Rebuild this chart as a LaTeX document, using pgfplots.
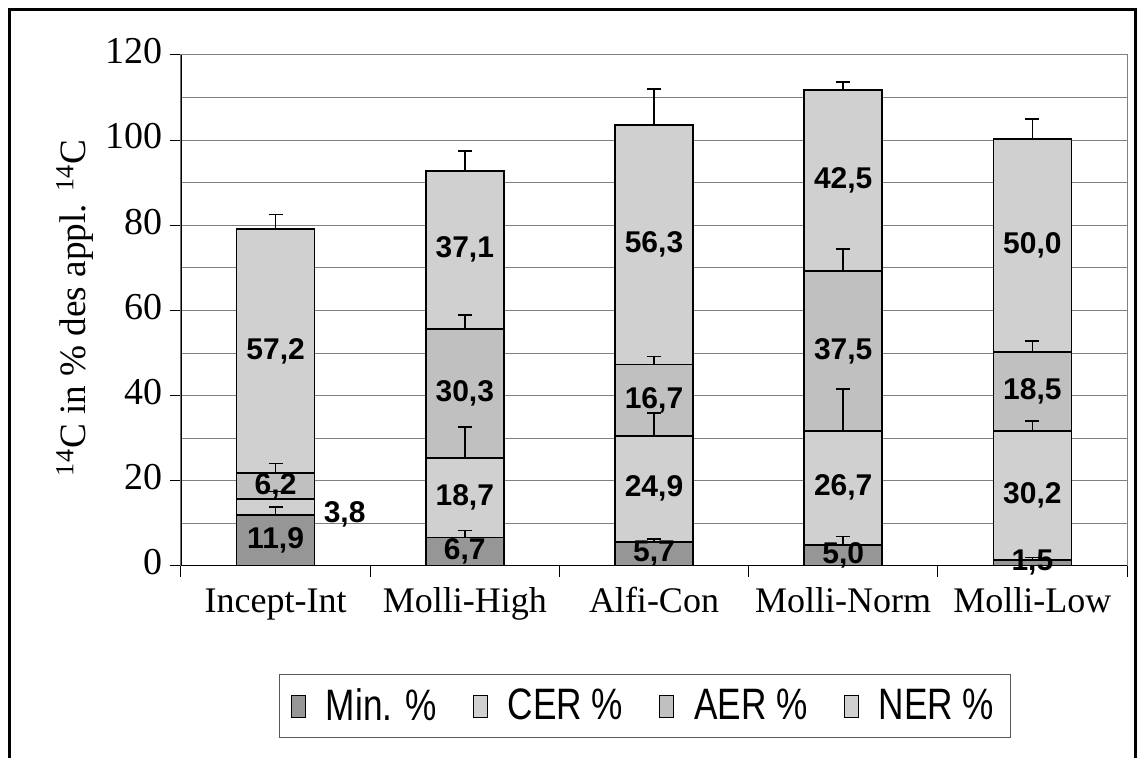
\documentclass[border=0pt]{standalone}
\usepackage{fontspec}
\setmainfont{Liberation Serif}
\newfontfamily\lblfont{Liberation Sans}
\newfontfamily\legfont[FakeStretch=0.8]{Liberation Sans}
\usepackage{pgfplots}
\usepackage{pgfplotstable}
\pgfplotsset{compat=1.18}

\definecolor{cMin}{RGB}{150,150,150}
\definecolor{cCER}{RGB}{208,208,208}
\definecolor{cAER}{RGB}{192,192,192}
\definecolor{cNER}{RGB}{208,208,208}

% segment values per treatment (x = 0..4)
\pgfplotstableread{
x  minp  cer   aer   ner
0  11.9  3.8   6.2   57.2
1  6.7   18.7  30.3  37.1
2  5.7   24.9  16.7  56.3
3  5.0   26.7  37.5  42.5
4  1.5   30.2  18.5  50.0
}\segs

% cumulative segment tops with upper standard deviations
\pgfplotstableread{
x  top    sd
0  11.9   2.0
0  15.7   1.8
0  21.9   2.2
0  79.1   3.4
1  6.7    1.6
1  25.4   7.2
1  55.7   3.3
1  92.8   4.6
2  5.7    0.7
2  30.6   5.3
2  47.3   1.9
2  103.6  8.4
3  5.0    1.9
3  31.7   9.8
3  69.2   5.2
3  111.7  2.0
4  1.5    0.5
4  31.7   2.4
4  50.2   2.7
4  100.2  4.7
}\errs

% value labels, placed at segment centres
\pgfplotstableread{
x     y      lab
0     5.95   11,9
0.365 12.1   3,8
0     18.8   6,2
0     50.5   57,2
1     3.35   6,7
1     16.05  18,7
1     40.55  30,3
1     74.25  37,1
2     2.85   5,7
2     18.15  24,9
2     38.95  16,7
2     75.45  56,3
3     2.5    5,0
3     18.35  26,7
3     50.45  37,5
3     90.45  42,5
4     0.75   1,5
4     16.6   30,2
4     40.95  18,5
4     75.2   50,0
}\labs

\pgfplotsset{
  plotarea/.style={
    at={(0,0)}, anchor=south west,
    scale only axis, width=473pt, height=255.5pt,
    xmin=-0.5, xmax=4.5, ymin=0, ymax=120,
  },
}

\begin{document}
\begin{tikzpicture}
\useasboundingbox (-90.5pt,-96pt) rectangle (480.5pt,283pt);

\begin{axis}[
  plotarea,
  ybar stacked,
  bar width=39pt,
  xtick={0,...,4},
  xticklabels={Incept-Int,Molli-High,Alfi-Con,Molli-Norm,Molli-Low},
  minor xtick={-0.5,0.5,...,4.5},
  ytick={0,20,...,120},
  minor ytick={10,30,...,110},
  xtick pos=bottom, ytick pos=left,
  tick align=outside,
  major tick length=5.5pt, minor tick length=5.5pt,
  major x tick style={draw=none},
  minor y tick style={draw=none},
  minor x tick style={black, line width=0.5pt},
  major y tick style={black, line width=0.5pt},
  ymajorgrids, yminorgrids,
  major grid style={gray, line width=0.5pt},
  minor grid style={gray, line width=0.5pt},
  axis line style={gray, line width=0.5pt},
  /pgf/number format/assume math mode=true,
  tick label style={font=\fontsize{19}{22}\selectfont},
  typeset ticklabels with strut,
  xticklabel style={font=\fontsize{18}{21}\selectfont, yshift=0.5pt},
  ylabel={\textsuperscript{14}C in \% des appl. \textsuperscript{14}C},
  every axis y label/.style={at={([xshift=-53pt]axis description cs:0,0.505)}, rotate=90, anchor=center, font=\fontsize{18.6}{22}\selectfont},
  legend columns=4,
  legend style={at={(0.49,-0.274)}, anchor=center, draw=gray!70!black, line width=0.5pt,
    font=\legfont\fontsize{22}{24}\selectfont, inner xsep=6pt, inner ysep=5pt,
    /tikz/every odd column/.append style={column sep=8pt},
    /tikz/every even column/.append style={column sep=16pt}},
  legend image code/.code={\draw[#1, draw=black, line width=0.5pt] (0pt,-5.5pt) rectangle (7pt,5.5pt);},
]
\addplot[fill=cMin, draw=black, line width=0.9pt] table[x=x, y=minp] {\segs};
\addplot[fill=cCER, draw=black, line width=0.9pt] table[x=x, y=cer] {\segs};
\addplot[fill=cAER, draw=black, line width=0.9pt] table[x=x, y=aer] {\segs};
\addplot[fill=cNER, draw=black, line width=0.9pt] table[x=x, y=ner] {\segs};
\legend{Min. \%, CER \%, AER \%, NER \%}
\draw[black, line width=0.6pt] (rel axis cs:0,1) -- (rel axis cs:0,0) -- (rel axis cs:1,0);
\end{axis}

\begin{axis}[plotarea, hide axis, clip=false]
\addplot[only marks, mark=none, nodes near coords, point meta=explicit symbolic,
  every node near coord/.append style={anchor=center, inner sep=0pt, text=black,
    font=\lblfont\bfseries\fontsize{15}{15}\selectfont}]
  table[x=x, y=y, meta=lab] {\labs};
\addplot[draw=none, mark=none,
  error bars/.cd, y dir=plus, y explicit,
  error mark=-,
  error bar style={draw=black, line width=0.8pt},
  error mark options={draw=black, line width=0.8pt, mark size=3.5pt, rotate=90}]
  table[x=x, y=top, y error plus=sd] {\errs};
\end{axis}

\draw[black, line width=1.5pt] (-85.5pt,-96pt) -- (-85.5pt,278pt) -- (477pt,278pt) -- (477pt,-96pt);
\end{tikzpicture}
\end{document}
